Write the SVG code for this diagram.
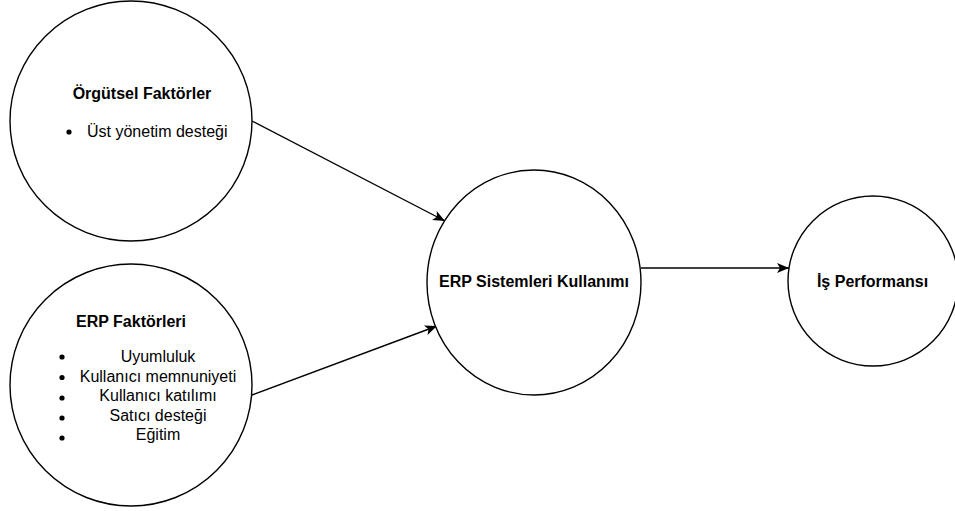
<svg xmlns="http://www.w3.org/2000/svg" width="955" height="511" viewBox="0 0 955 511">
<defs>
<marker id="arr" markerUnits="userSpaceOnUse" markerWidth="14" markerHeight="12" refX="12" refY="5" orient="auto">
<path d="M0,0 L12,5 L0,10 L3,5 Z" fill="#000"/>
</marker>
<style>
.node{fill:#fff;stroke:#000;stroke-width:1.4}
.edge{fill:none;stroke:#000;stroke-width:1.4;marker-end:url(#arr)}
text{font-family:"Liberation Sans",Arial,sans-serif;font-size:16px;fill:#000}
.b{font-weight:bold}
.c{text-anchor:middle}
</style>
</defs>
<rect width="955" height="511" fill="#fff"/>
<g id="connectors">
<path class="edge" d="M252,121 L445,221"/>
<path class="edge" d="M252,395 L437,326"/>
<path class="edge" d="M641,268 L789,268"/>
</g>
<g id="orgutsel">
<ellipse class="node" cx="131" cy="121" rx="121" ry="120"/>
<text class="b c" x="142" y="99">Örgütsel Faktörler</text>
<circle cx="69" cy="132" r="2.6" fill="#000"/>
<text x="87" y="137">Üst yönetim desteği</text>
</g>
<g id="erp">
<circle class="node" cx="131" cy="385" r="121"/>
<text class="b c" x="131" y="327">ERP Faktörleri</text>
<g fill="#000">
<circle cx="62" cy="357" r="2.6"/>
<circle cx="62" cy="377.5" r="2.6"/>
<circle cx="62" cy="398" r="2.6"/>
<circle cx="62" cy="418" r="2.6"/>
<circle cx="62" cy="438" r="2.6"/>
</g>
<text class="c" x="158" y="362">Uyumluluk</text>
<text class="c" x="158" y="381.5">Kullanıcı memnuniyeti</text>
<text class="c" x="158" y="401">Kullanıcı katılımı</text>
<text class="c" x="158" y="420.5">Satıcı desteği</text>
<text class="c" x="158" y="440">Eğitim</text>
</g>
<g id="kullanim">
<ellipse class="node" cx="534" cy="282.5" rx="107" ry="112.5"/>
<text class="b c" x="534" y="287">ERP Sistemleri Kullanımı</text>
</g>
<g id="performans">
<circle class="node" cx="873" cy="281" r="85"/>
<text class="b c" x="872.5" y="287">İş Performansı</text>
</g>
</svg>
